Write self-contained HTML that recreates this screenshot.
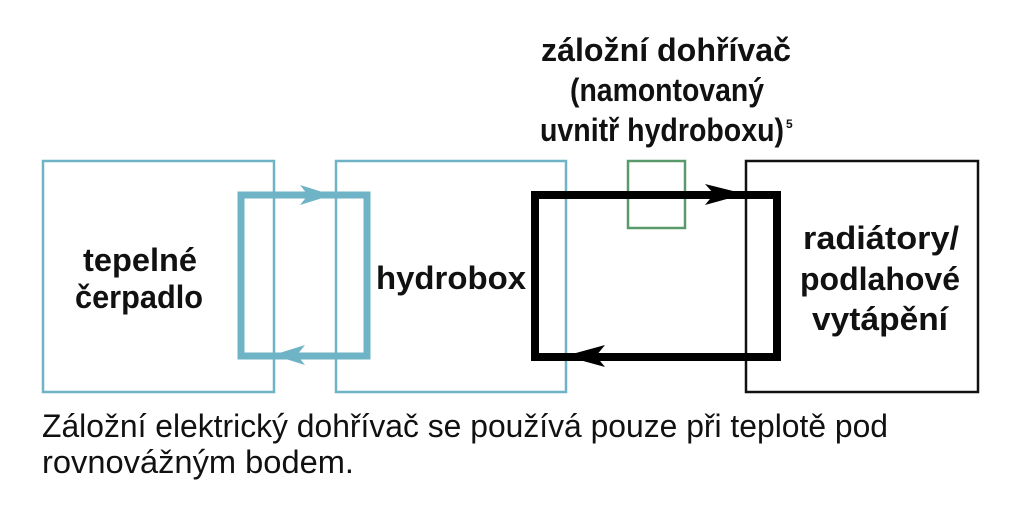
<!DOCTYPE html>
<html><head><meta charset="utf-8"><style>
html,body{margin:0;padding:0;background:#fff;width:1024px;height:512px;overflow:hidden}
svg{display:block}
text{font-family:"Liberation Sans",sans-serif;fill:#111}
.b{font-weight:bold;font-size:32px}
.c{font-size:32px}
</style></head><body>
<svg width="1024" height="512" viewBox="0 0 1024 512" xmlns="http://www.w3.org/2000/svg">
<rect x="43" y="161" width="231" height="231" fill="none" stroke="#6fb3c6" stroke-width="2.5"/>
<rect x="336" y="161" width="230" height="231" fill="none" stroke="#6fb3c6" stroke-width="2.5"/>
<rect x="746" y="161" width="232" height="231" fill="none" stroke="#111" stroke-width="2.5"/>
<rect x="628" y="161" width="57" height="67" fill="none" stroke="#5a9a6a" stroke-width="2.5"/>
<rect x="241" y="195" width="126" height="161" fill="none" stroke="#6fb3c6" stroke-width="7"/>
<polygon points="300,185 332,195 300,205 308,195" fill="#6fb3c6"/>
<polygon points="305,345 273,355 305,365 297,355" fill="#6fb3c6"/>
<rect x="535" y="195" width="242" height="162" fill="none" stroke="#000" stroke-width="8"/>
<polygon points="705,184 745,194 705,205 714,194" fill="#000"/>
<polygon points="605,345 565,356 605,367 596,356" fill="#000"/>
<text class="b" x="541" y="61" textLength="250" lengthAdjust="spacingAndGlyphs">záložní dohřívač</text>
<text class="b" x="570" y="101" textLength="194" lengthAdjust="spacingAndGlyphs">(namontovaný</text>
<text class="b" x="540" y="141" textLength="244" lengthAdjust="spacingAndGlyphs">uvnitř hydroboxu)</text>
<text x="786" y="128" font-size="12" font-weight="bold">5</text>
<text class="b" x="83" y="271" textLength="114" lengthAdjust="spacingAndGlyphs">tepelné</text>
<text class="b" x="75" y="308" textLength="128" lengthAdjust="spacingAndGlyphs">čerpadlo</text>
<text class="b" x="376" y="289" textLength="150" lengthAdjust="spacingAndGlyphs">hydrobox</text>
<text class="b" x="803" y="249" textLength="156" lengthAdjust="spacingAndGlyphs">radiátory/</text>
<text class="b" x="800" y="290" textLength="160" lengthAdjust="spacingAndGlyphs">podlahové</text>
<text class="b" x="812" y="330" textLength="136" lengthAdjust="spacingAndGlyphs">vytápění</text>
<text class="c" x="42" y="437" textLength="846" lengthAdjust="spacingAndGlyphs">Záložní elektrický dohřívač se používá pouze při teplotě pod</text>
<text class="c" x="42" y="473" textLength="312" lengthAdjust="spacingAndGlyphs">rovnovážným bodem.</text>
</svg>
</body></html>
